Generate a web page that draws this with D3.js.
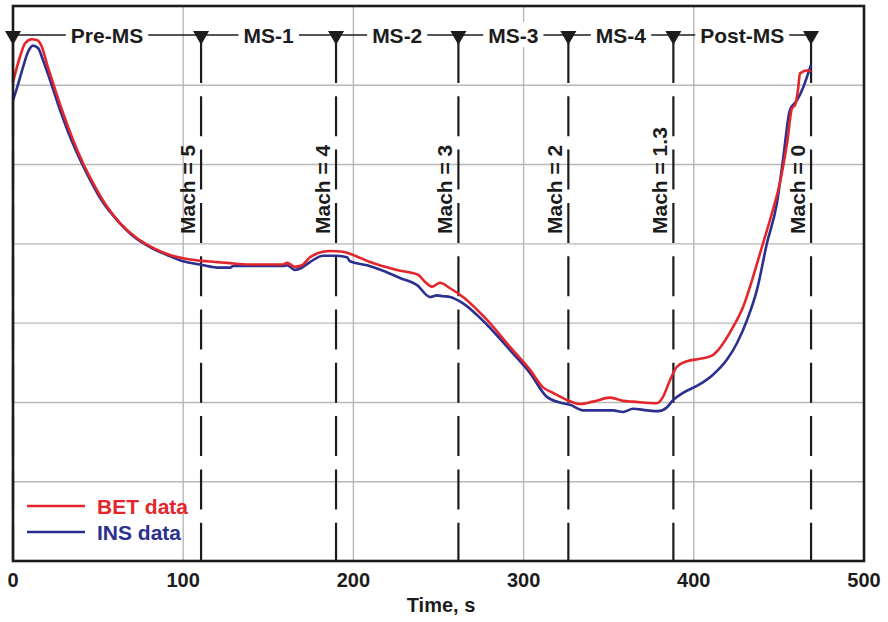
<!DOCTYPE html>
<html>
<head>
	<meta http-equiv="Content-Type" content="text/html; charset=utf-8" />
	<title>BET / INS</title>
	<script type="text/javascript" charset="utf-8" src="https://cdn.jsdelivr.net/npm/d3@7/dist/d3.min.js"></script>
	<style type="text/css">
	body {
	  margin: 0;
	  background-color: #fff;
	  font-family: 'Liberation Sans', Arial, sans-serif;
	}
	</style>
</head>
<body>

<svg width="888" height="622" version="1.1" xmlns="http://www.w3.org/2000/svg"></svg>

<script type="text/javascript">

// time (s) and value (grid units, 0..7)
var v_BetTime  = [0, 4.1, 7.1, 11.0, 13.9, 16.9, 19.8, 23.5, 29.4, 35.3, 41.1, 47.0, 55.2, 62.9, 72.9, 82.3, 92.2, 102.2, 114.0, 119.9, 125.7, 139.2, 158.6, 161.0, 165.7, 169.8, 174.5, 182.1, 186.3, 193.9, 199.8, 209.8, 225.6, 238.0, 242.1, 246.2, 250.9, 256.8, 264.4, 278.5, 292.0, 303.8, 311.4, 317.3, 325.5, 333.1, 340.8, 350.8, 358.4, 364.3, 378.4, 381.9, 386.0, 390.1, 396.0, 403.6, 410.7, 415.4, 423.0, 428.9, 434.2, 440.7, 446.5, 450.6, 454.8, 457.7, 459.5, 461.2, 462.4, 467.1, 468.9];
var v_BetValue = [6.04, 6.36, 6.53, 6.58, 6.57, 6.49, 6.28, 6.03, 5.65, 5.31, 5.02, 4.77, 4.47, 4.26, 4.07, 3.95, 3.86, 3.81, 3.78, 3.77, 3.76, 3.74, 3.74, 3.76, 3.71, 3.73, 3.83, 3.90, 3.91, 3.90, 3.86, 3.77, 3.67, 3.61, 3.52, 3.46, 3.51, 3.44, 3.33, 3.04, 2.70, 2.41, 2.19, 2.12, 2.03, 1.98, 2.01, 2.06, 2.02, 2.01, 1.99, 2.07, 2.28, 2.45, 2.52, 2.55, 2.59, 2.69, 2.95, 3.20, 3.54, 4.01, 4.43, 4.77, 5.27, 5.71, 5.75, 5.94, 6.15, 6.19, 6.17];

var v_InsTime  = [0, 2.4, 5.9, 8.8, 11.8, 14.7, 17.6, 21.7, 27.6, 33.5, 39.4, 45.2, 52.9, 61.1, 70.5, 80.5, 90.5, 99.9, 109.9, 121.6, 127.5, 129.3, 158.6, 161.0, 165.7, 169.8, 174.5, 182.1, 190.4, 196.2, 198.0, 208.0, 217.4, 227.4, 237.4, 245.0, 249.1, 252.6, 256.8, 264.4, 278.5, 292.0, 303.8, 313.7, 323.1, 327.3, 334.9, 352.5, 358.4, 364.3, 372.5, 379.0, 384.3, 387.8, 393.7, 403.6, 411.3, 419.5, 425.4, 431.3, 437.1, 443.0, 448.9, 452.4, 456.5, 460.6, 464.2, 468.9];
var v_InsValue = [5.81, 5.97, 6.23, 6.42, 6.50, 6.47, 6.32, 6.07, 5.69, 5.35, 5.06, 4.81, 4.52, 4.30, 4.10, 3.96, 3.86, 3.78, 3.74, 3.70, 3.70, 3.72, 3.72, 3.73, 3.67, 3.70, 3.77, 3.85, 3.85, 3.83, 3.78, 3.73, 3.66, 3.57, 3.48, 3.33, 3.35, 3.34, 3.33, 3.25, 2.98, 2.66, 2.37, 2.07, 1.99, 1.97, 1.90, 1.90, 1.88, 1.92, 1.90, 1.89, 1.94, 2.03, 2.12, 2.23, 2.35, 2.54, 2.75, 3.04, 3.42, 4.01, 4.52, 5.06, 5.69, 5.81, 5.97, 6.26];

var v_MarkerTimes = [0, 110.5, 189.8, 261.7, 326.3, 388.0, 468.9];
var v_MachLabels  = ["", "Mach = 5", "Mach = 4", "Mach = 3", "Mach = 2", "Mach = 1.3", "Mach = 0"];
var v_PhaseLabels = ["Pre-MS", "MS-1", "MS-2", "MS-3", "MS-4", "Post-MS"];
var v_XTicks      = [0, 100, 200, 300, 400, 500];
var v_YGrid       = [1, 2, 3, 4, 5, 6];

var v_Series = [{"name":"BET data" ,"color":"#e2262b" ,"time":v_BetTime ,"value":v_BetValue}
               ,{"name":"INS data" ,"color":"#2b2f8e" ,"time":v_InsTime ,"value":v_InsValue}];

var m = {left:13 ,right:864 ,top:6 ,bottom:561};
var v_Ink = "#1c1c1c";

var v_SVG = d3.select("svg");
var x = d3.scaleLinear().domain([0, 500]).range([m.left, m.right]);
var y = d3.scaleLinear().domain([0, 7]).range([m.bottom, m.top]);

// grid
v_SVG.append("g").selectAll("line").data(v_XTicks.slice(1, -1)).enter().append("line")
.attr("x1" ,function(d) { return x(d); })
.attr("x2" ,function(d) { return x(d); })
.attr("y1" ,m.top)
.attr("y2" ,m.bottom)
.attr("stroke" ,"#b8b8b8")
.attr("stroke-width" ,1.4);

v_SVG.append("g").selectAll("line").data(v_YGrid).enter().append("line")
.attr("x1" ,m.left)
.attr("x2" ,m.right)
.attr("y1" ,function(d) { return y(d); })
.attr("y2" ,function(d) { return y(d); })
.attr("stroke" ,"#b8b8b8")
.attr("stroke-width" ,1.4);

// phase bar
var v_BarY = 35;
v_SVG.append("line")
.attr("x1" ,x(v_MarkerTimes[0]))
.attr("x2" ,x(v_MarkerTimes[v_MarkerTimes.length - 1]))
.attr("y1" ,v_BarY)
.attr("y2" ,v_BarY)
.attr("stroke" ,v_Ink)
.attr("stroke-width" ,1.3);

v_PhaseLabels.forEach(function(d ,i)
{
	var v_Cx = (x(v_MarkerTimes[i]) + x(v_MarkerTimes[i + 1])) / 2;
	var v_G  = v_SVG.append("g");
	var v_Text = v_G.append("text")
	.attr("x" ,v_Cx)
	.attr("y" ,43)
	.attr("text-anchor" ,"middle")
	.attr("font-size" ,21)
	.attr("font-weight" ,"bold")
	.attr("fill" ,v_Ink)
	.text(d);
	var v_Box = v_Text.node().getBBox();
	v_G.insert("rect" ,"text")
	.attr("x" ,v_Box.x - 5)
	.attr("y" ,v_Box.y - 2)
	.attr("width" ,v_Box.width + 10)
	.attr("height" ,v_Box.height + 2)
	.attr("fill" ,"white");
});

// mach markers
var v_Markers = v_SVG.append("g").selectAll("g").data(v_MarkerTimes).enter().append("g")
.attr("transform" ,function(d) { return "translate(" + x(d) + ",0)"; });

v_Markers.append("line")
.attr("x1" ,0).attr("x2" ,0)
.attr("y1" ,43)
.attr("y2" ,m.bottom)
.attr("stroke" ,v_Ink)
.attr("stroke-width" ,2.2)
.attr("stroke-dasharray" ,"40,13.3");

v_Markers.append("path")
.attr("d" ,"M-8,31 L8,31 L0,45 Z")
.attr("fill" ,v_Ink);

v_Markers.append("text")
.attr("transform" ,"translate(-6,234) rotate(-90)")
.attr("font-size" ,21)
.attr("font-weight" ,"bold")
.attr("fill" ,v_Ink)
.text(function(d ,i) { return v_MachLabels[i]; });

// curves
var v_Line = d3.line()
.x(function(d) { return x(d[0]); })
.y(function(d) { return y(d[1]); })
.curve(d3.curveMonotoneX);

v_Series.slice().reverse().forEach(function(s)
{
	v_SVG.append("path")
	.attr("d" ,v_Line(d3.zip(s.time ,s.value)))
	.attr("fill" ,"none")
	.attr("stroke" ,s.color)
	.attr("stroke-width" ,2.6)
	.attr("stroke-linejoin" ,"round");
});

// frame
v_SVG.append("rect")
.attr("x" ,m.left)
.attr("y" ,m.top)
.attr("width" ,m.right - m.left)
.attr("height" ,m.bottom - m.top)
.attr("fill" ,"none")
.attr("stroke" ,v_Ink)
.attr("stroke-width" ,2.6);

// x axis labels
v_SVG.append("g").selectAll("text").data(v_XTicks).enter().append("text")
.attr("x" ,function(d) { return x(d); })
.attr("y" ,587)
.attr("text-anchor" ,"middle")
.attr("font-size" ,20)
.attr("font-weight" ,"bold")
.attr("fill" ,v_Ink)
.text(function(d) { return d; });

v_SVG.append("text")
.attr("x" ,441)
.attr("y" ,612)
.attr("text-anchor" ,"middle")
.attr("font-size" ,20)
.attr("font-weight" ,"bold")
.attr("fill" ,v_Ink)
.text("Time, s");

// legend
var v_Legend = v_SVG.append("g").selectAll("g").data(v_Series).enter().append("g")
.attr("transform" ,function(d ,i) { return "translate(27," + (506 + i * 26) + ")"; });

v_Legend.append("line")
.attr("x1" ,0).attr("x2" ,58)
.attr("y1" ,0).attr("y2" ,0)
.attr("stroke" ,function(d) { return d.color; })
.attr("stroke-width" ,2.6);

v_Legend.append("text")
.attr("x" ,70)
.attr("y" ,8)
.attr("font-size" ,21)
.attr("font-weight" ,"bold")
.attr("fill" ,function(d) { return d.color; })
.text(function(d) { return d.name; });

</script>

</body>
</html>
